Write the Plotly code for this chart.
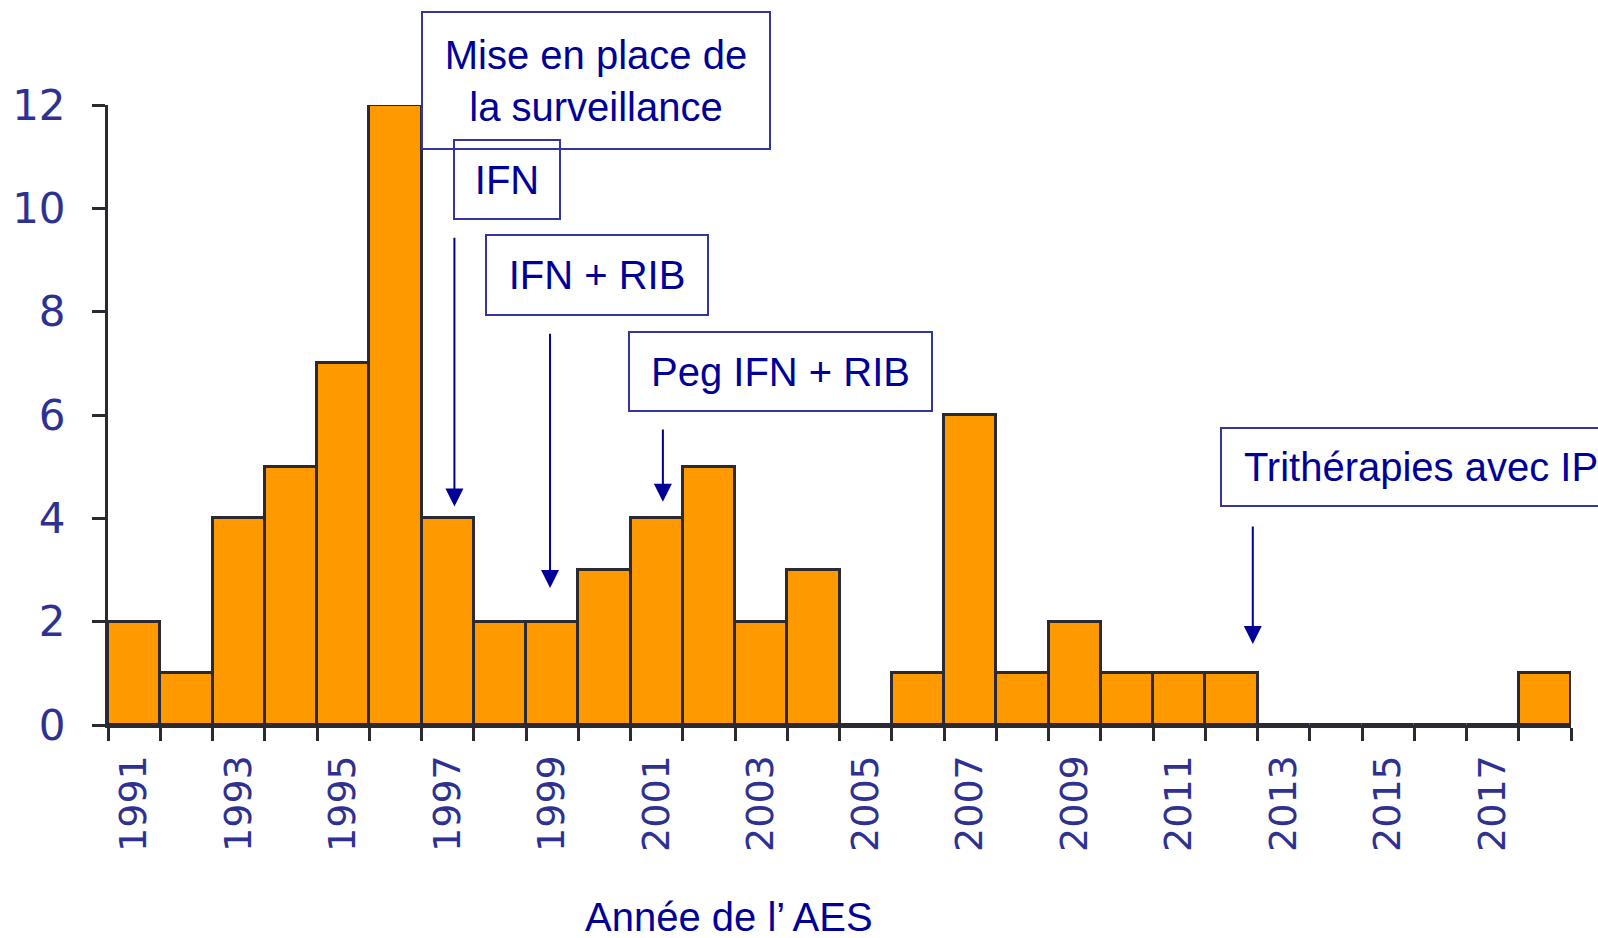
import plotly.graph_objects as go

# nombre d'AES par année
years = list(range(1991, 2019))
counts = [2, 1, 4, 5, 7, 12, 4, 2, 2, 3, 4, 5, 2, 3, 0, 1, 6, 1, 2, 1, 1, 1,
          0, 0, 0, 0, 0, 1]
label_years = list(range(1991, 2019, 2))

# encadrés : texte, centre x (année), centre y (fraction du graphe), largeur, hauteur
boxes = [
    ("Mise en place de<br>la surveillance", 1999.84, 1.039, 346, 135),
    ("IFN", 1998.14, 0.880, 104, 77),
    ("IFN + RIB", 1999.86, 0.726, 220, 78),
    ("Peg IFN + RIB", 2003.38, 0.570, 301, 77),
    ("Trithérapies avec IP", 2015.63, 0.416, 398, 76),
]
# flèches : x, pointe y, départ y
arrows = [
    (1997.13, 4.23, 9.46),
    (1998.96, 2.65, 7.6),
    (2001.12, 4.32, 5.75),
    (2012.41, 1.57, 3.87),
]

tick_blue = "#2E3192"
navy = "#000099"
dark = "#2B2A33"
sans = "Liberation Sans, Arial"

fig = go.Figure()
fig.add_trace(go.Bar(
    x=years,
    y=counts,
    width=1,
    marker_color="#FF9900",
    marker_line=dict(color=dark, width=3),
    cliponaxis=False,
    hoverinfo="skip",
))

for text, x, y, w, h in boxes:
    fig.add_annotation(
        x=x, y=y, xref="x", yref="paper", xanchor="center", yanchor="middle",
        text=text, showarrow=False,
        width=w, height=h, borderpad=0, bordercolor="#3535A0", borderwidth=2,
        font=dict(family=sans, size=40, color=navy),
    )

for x, y, y0 in arrows:
    fig.add_annotation(
        x=x, y=y, ax=x, ay=y0, xref="x", yref="y", axref="x", ayref="y",
        text="", showarrow=True, arrowhead=2, arrowsize=1.8, arrowwidth=2,
        arrowcolor=navy,
    )

fig.add_annotation(
    x=0.4245, y=-0.309, xref="paper", yref="paper", text="Année de l’ AES",
    showarrow=False, xanchor="center", yanchor="middle",
    font=dict(family=sans, size=40, color=navy),
)

fig.update_layout(
    width=1598, height=938,
    margin=dict(l=105, r=27, t=105, b=213),
    plot_bgcolor="white", paper_bgcolor="white",
    showlegend=False,
    bargap=0,
    font=dict(family="DejaVu Sans", size=38, color=tick_blue),
)
fig.update_xaxes(
    range=[1990.5, 2018.5],
    tickmode="array", tickvals=label_years,
    ticktext=[str(y) for y in label_years],
    tickangle=-90, ticks="", ticklabelstandoff=12,
    tickfont=dict(family="DejaVu Sans", size=38, color=tick_blue),
    minor=dict(tick0=1990.5, dtick=1, ticks="outside", ticklen=13,
               tickwidth=3, tickcolor=dark),
    showline=True, linecolor=dark, linewidth=3,
    showgrid=False, zeroline=False,
)
fig.update_yaxes(
    range=[0, 12], dtick=2,
    ticks="outside", ticklen=13, tickwidth=3, tickcolor=dark,
    ticklabelstandoff=18,
    tickfont=dict(family="DejaVu Sans", size=42, color=tick_blue),
    showline=True, linecolor=dark, linewidth=3,
    showgrid=False, zeroline=False,
)

# pas de marge de page autour du graphique
fig.write_html("out.html", config={"displayModeBar": False},
               post_script="document.body.style.margin='0';")
